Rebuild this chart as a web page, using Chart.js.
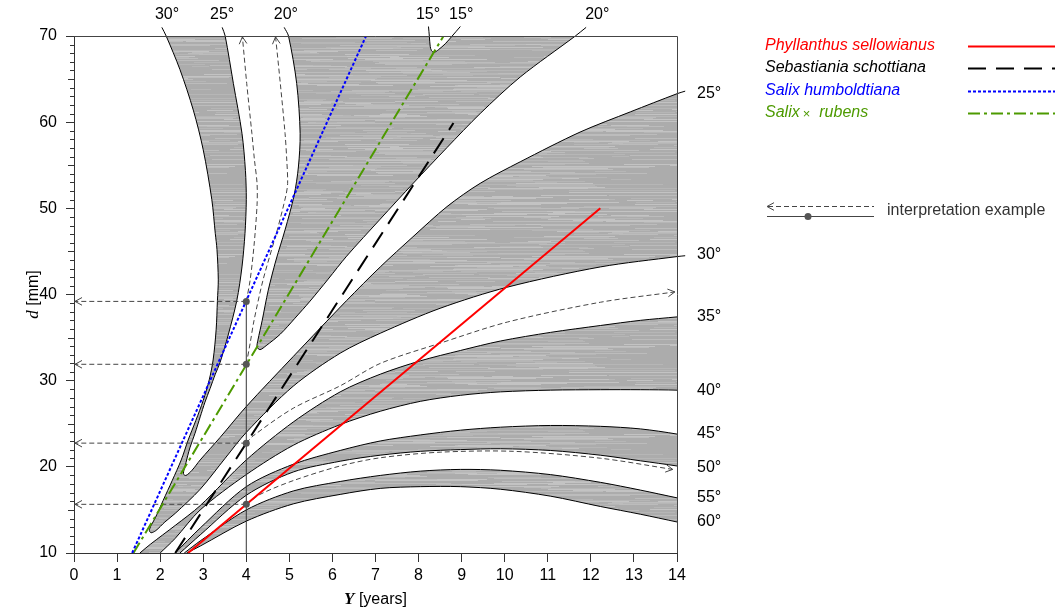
<!DOCTYPE html>
<html>
<head>
<meta charset="utf-8">
<script src="https://cdn.jsdelivr.net/npm/chart.js@4.4.1/dist/chart.umd.min.js"></script>
<style>
  html, body { margin: 0; padding: 0; background: #fff; }
</style>
</head>
<body>
<canvas id="chart" width="1055" height="609"></canvas>
<script>
// angle contours, [Y years, d mm]
const curve15 = [[8.23,71.1],[8.25,70],[8.27,68.8],[8.30,68.3],[8.36,68.1],[8.46,68.4],[8.62,69.1],[8.78,70],[8.97,71.1]];
const curve20 = [[4.88,71.0],[4.98,70],[5.17,64.5],[5.25,58.7],[5.21,54.8],[5.11,51.5],[4.90,47.5],[4.69,44.0],[4.51,40.5],[4.37,37.0],[4.27,34.7],[4.25,33.9],[4.32,33.6],[4.46,34.06],[4.79,35.4],[5.13,37.25],[5.48,39.23],[5.90,41.78],[6.33,44.45],[7.11,48.75],[7.88,52.93],[8.66,57.05],[9.43,61.0],[10.36,65.24],[11.64,70],[11.89,71.0]];
const curve25 = [[3.44,71.0],[3.51,70],[3.70,64.5],[3.90,58.7],[3.98,54.4],[4.0,51.0],[3.97,47.1],[3.90,43.2],[3.78,39.3],[3.58,35.3],[3.39,32.1],[3.28,30.75],[3.16,29.1],[3.04,27.5],[2.93,25.8],[2.81,23.9],[2.69,22.2],[2.60,20.5],[2.54,19.2],[2.60,19.0],[2.74,19.6],[2.93,20.8],[3.39,23.4],[4.0,27.0],[5.09,32.8],[6.33,39.3],[7.11,43.2],[7.87,46.7],[8.66,50.2],[9.43,52.9],[10.36,55.4],[11.75,58.85],[12.92,61.2],[14.0,63.3],[14.19,63.6]];
const curve30 = [[2.04,71.0],[2.14,70],[2.46,66.1],[2.77,61.4],[3.00,56.8],[3.20,51.0],[3.28,47.1],[3.32,45.2],[3.35,41.7],[3.33,39.3],[3.30,35.9],[3.23,32.4],[3.14,30.1],[3.00,27.7],[2.83,25.4],[2.65,23.1],[2.49,20.8],[2.28,18.4],[2.07,16.1],[1.88,14.0],[1.79,13.2],[1.75,12.6],[1.79,12.35],[1.90,12.6],[2.11,13.6],[2.35,14.6],[2.93,17.4],[3.51,21.0],[4.0,24.0],[5.09,29.36],[6.18,33.19],[7.11,35.5],[8.50,38.4],[10.06,40.85],[12.22,43.2],[14.0,44.4],[14.19,44.5]];
const curve35 = [[1.53,10],[1.77,11.0],[2.35,13.2],[2.93,15.5],[4.0,20.8],[5.09,25.2],[6.18,28.7],[7.11,30.75],[8.04,32.3],[8.97,33.5],[9.90,34.6],[11.06,35.6],[12.22,36.4],[13.15,37.0],[14.0,37.4],[14.19,37.5]];
const curve40 = [[2.0,10],[2.35,11.7],[2.93,15.0],[4.0,19.1],[5.09,22.5],[6.18,24.9],[7.11,26.45],[8.04,27.6],[8.97,28.3],[9.90,28.7],[11.06,28.9],[12.22,28.95],[13.15,28.95],[14.0,28.9],[14.19,28.8]];
const curve45 = [[2.35,10],[2.93,12.9],[4.0,17.7],[5.09,20.3],[6.18,21.9],[7.11,23.0],[8.04,23.7],[8.97,24.25],[9.90,24.6],[11.06,24.8],[12.22,24.7],[13.15,24.4],[14.0,23.8],[14.19,23.5]];
const curve50 = [[2.46,10],[2.93,12.1],[4.0,16.7],[5.09,19.4],[6.18,20.65],[7.11,21.35],[8.04,21.8],[8.97,22.0],[9.90,22.1],[11.06,21.9],[12.22,21.35],[13.15,20.7],[14.0,20.1],[14.19,19.9]];
const curve55 = [[2.56,10],[2.93,11.4],[4.0,15.0],[5.09,17.2],[6.18,18.3],[7.11,19.0],[8.04,19.5],[8.97,19.7],[9.90,19.6],[11.06,19.1],[12.22,18.2],[13.15,17.3],[14.0,16.4],[14.19,16.2]];
const curve60 = [[2.62,10],[2.93,10.8],[4.0,13.7],[5.09,15.7],[6.18,16.8],[7.11,17.5],[8.04,17.7],[8.97,17.7],[9.90,17.4],[11.06,16.6],[12.22,15.4],[13.15,14.5],[14.0,13.6],[14.19,13.4]];

// species regressions
const speciesNames = ['Phyllanthus sellowianus', 'Sebastiania schottiana', 'Salix humboldtiana', 'Salix × rubens'];
const redLine = [[2.65,10],[12.22,50]];
const blackLine = [[2.35,10],[8.81,59.9]];
const blueLine = [[1.35,10],[6.78,70]];
const greenLine = [[1.38,10],[8.58,70]];

// interpretation example
const exampleY = 4;
const exampleD = [39.2, 31.9, 22.75, 15.65];
const interpUp1 = [[4.0,39.2],[4.09,41.7],[4.18,45.7],[4.25,50.4],[4.25,52.9],[4.19,55.6],[4.13,58.7],[4.01,64.5],[3.91,69.9]];
const interpUp2 = [[4.0,31.9],[4.09,34.35],[4.18,37.0],[4.39,41.7],[4.72,47.5],[4.92,51.5],[4.96,52.9],[4.94,55.6],[4.90,58.7],[4.79,64.5],[4.68,69.9]];
const interpRight1 = [[4.0,22.75],[4.16,23.6],[5.09,26.8],[6.18,29.4],[7.11,32.0],[8.50,34.35],[10.06,36.8],[12.22,39.1],[13.95,40.3]];
const interpRight2 = [[4.0,15.65],[4.32,16.8],[5.09,18.4],[6.18,20.1],[7.11,21.05],[8.50,21.7],[10.2,21.8],[12.22,21.0],[13.9,19.7]];

// angle labels
const rightLabels = ['25°', '30°', '35°', '40°', '45°', '50°', '55°', '60°'];
const rightLabelD = [63.3, 44.6, 37.4, 28.9, 23.9, 19.95, 16.45, 13.7];
const topLabels = ['30°', '25°', '20°', '15°', '15°', '20°'];
const topLabelX = [2.16, 3.44, 4.92, 8.22, 8.99, 12.15];

const FONT = '"Liberation Sans", Arial, Helvetica, sans-serif';
const SERIF = '"Liberation Serif", "Times New Roman", serif';
const GREEN = '#4d9a00';
const DARK = '#444';

// streaky grey fill like the scanned original (fixed hash, no randomness)
function makeTexture() {
  const c = document.createElement('canvas');
  c.width = 420; c.height = 90;
  const g = c.getContext('2d');
  const hash = n => (Math.imul(n + 7, 2654435761) >>> 7) ^ (Math.imul(n + 3, 40503) >>> 3);
  g.fillStyle = '#acacac';
  g.fillRect(0, 0, c.width, c.height);
  const shades = ['#bcbcbc', '#c3c3c3', '#b6b6b6'];
  for (let r = 0; r < c.height; r++) {
    for (let k = 0; k < 3; k++) {
      const n = r * 3 + k;
      const start = hash(n) % c.width;
      const len = 15 + hash(n + 1000) % 110;
      g.fillStyle = shades[hash(n + 2000) % 3];
      g.fillRect(start, r, len, 1);
      if (start + len > c.width) g.fillRect(0, r, start + len - c.width, 1);
    }
  }
  return g.createPattern(c, 'repeat');
}
const GRAY = makeTexture();

const xy = pts => pts.map(p => ({ x: p[0], y: p[1] }));

function band(outer, inner) {
  return {
    data: xy(outer.concat(inner.slice().reverse())),
    showLine: true, fill: 'shape', backgroundColor: GRAY,
    borderColor: 'rgba(0,0,0,0)', borderWidth: 1,
    pointRadius: 0, tension: 0.3, order: 10
  };
}

function contour(c) {
  return {
    data: xy(c), showLine: true, fill: false,
    borderColor: '#000', borderWidth: 1,
    pointRadius: 0, tension: 0.3, clip: false, order: 8
  };
}

function dashed(pts, tension) {
  return {
    data: xy(pts), showLine: true, fill: false,
    borderColor: DARK, borderWidth: 1, borderDash: [5, 3],
    pointRadius: 0, tension: tension, order: 6
  };
}

function species(pts, color, dash) {
  return {
    data: xy(pts), showLine: true, fill: false,
    borderColor: color, borderWidth: 2, borderDash: dash,
    pointRadius: 0, order: 4
  };
}

const DASH_BLACK = [18, 10];
const DASH_BLUE = [3, 2];
const DASH_GREEN = [12, 4, 3, 4];

const datasets = [
  band(curve20, curve15),
  band(curve30, curve25),
  band(curve35, curve40),
  band(curve45, curve50),
  band(curve55, curve60),
  ...[curve15, curve20, curve25, curve30, curve35, curve40, curve45, curve50, curve55, curve60].map(contour),
  dashed(interpUp1, 0.3),
  dashed(interpUp2, 0.3),
  dashed(interpRight1, 0.3),
  dashed(interpRight2, 0.3),
  ...exampleD.map(d => dashed([[exampleY, d], [0, d]], 0)),
  {
    data: xy([[exampleY, 10], [exampleY, exampleD[0]]]), showLine: true,
    borderColor: '#333', borderWidth: 1, pointRadius: 0, order: 5
  },
  species(redLine, '#ff0000', []),
  species(blackLine, '#000', DASH_BLACK),
  species(blueLine, '#0000ff', DASH_BLUE),
  species(greenLine, GREEN, DASH_GREEN),
  {
    data: exampleD.map(d => ({ x: exampleY, y: d })), showLine: false,
    pointRadius: 3.5, backgroundColor: '#555', borderWidth: 0, order: 1
  }
];

function chevron(ctx, x0, y0, x1, y1) {
  const ang = Math.atan2(y1 - y0, x1 - x0);
  const L = 8, W = 0.5;
  ctx.beginPath();
  ctx.moveTo(x1 - L * Math.cos(ang - W), y1 - L * Math.sin(ang - W));
  ctx.lineTo(x1, y1);
  ctx.lineTo(x1 - L * Math.cos(ang + W), y1 - L * Math.sin(ang + W));
  ctx.stroke();
}

const decor = {
  id: 'decor',
  afterDraw(chart) {
    const { ctx, chartArea: a, scales: { x, y } } = chart;
    ctx.save();

    // frame top and right
    ctx.strokeStyle = '#444';
    ctx.lineWidth = 1;
    ctx.beginPath();
    ctx.moveTo(a.left, a.top + 0.5);
    ctx.lineTo(a.right + 0.5, a.top + 0.5);
    ctx.lineTo(a.right + 0.5, a.bottom);
    ctx.stroke();

    // minor ticks on d axis
    ctx.strokeStyle = '#333';
    for (let v = 11; v < 70; v++) {
      if (v % 10 === 0) continue;
      const py = Math.round(y.getPixelForValue(v)) + 0.5;
      const len = v % 5 === 0 ? 6 : 4;
      ctx.beginPath();
      ctx.moveTo(a.left - len, py);
      ctx.lineTo(a.left, py);
      ctx.stroke();
    }

    // arrow heads
    ctx.strokeStyle = DARK;
    const px = p => [x.getPixelForValue(p[0]), y.getPixelForValue(p[1])];
    [interpUp1, interpUp2, interpRight1, interpRight2].forEach(c => {
      const p0 = px(c[c.length - 2]), p1 = px(c[c.length - 1]);
      chevron(ctx, p0[0], p0[1], p1[0], p1[1]);
    });
    exampleD.forEach(d => {
      const p0 = px([exampleY, d]), p1 = px([0, d]);
      chevron(ctx, p0[0], p0[1], p1[0] + 1, p1[1]);
    });

    // angle labels
    ctx.fillStyle = '#000';
    ctx.font = '16px ' + FONT;
    ctx.textBaseline = 'middle';
    ctx.textAlign = 'left';
    rightLabels.forEach((t, i) => ctx.fillText(t, a.right + 20, y.getPixelForValue(rightLabelD[i])));
    ctx.textAlign = 'center';
    topLabels.forEach((t, i) => ctx.fillText(t, x.getPixelForValue(topLabelX[i]), a.top - 21));

    // x axis title
    ctx.textAlign = 'left';
    ctx.textBaseline = 'alphabetic';
    ctx.font = 'bold italic 17px ' + SERIF;
    const wY = ctx.measureText('Y').width;
    ctx.font = '16px ' + FONT;
    const wR = ctx.measureText(' [years]').width;
    let sx = (a.left + a.right) / 2 - (wY + wR) / 2;
    ctx.font = 'bold italic 17px ' + SERIF;
    ctx.fillText('Y', sx, 604);
    ctx.font = '16px ' + FONT;
    ctx.fillText(' [years]', sx + wY, 604);

    // y axis title
    ctx.save();
    ctx.translate(38, (a.top + a.bottom) / 2);
    ctx.rotate(-Math.PI / 2);
    ctx.font = 'italic 17px ' + SERIF;
    const wd = ctx.measureText('d').width;
    ctx.font = '16px ' + FONT;
    const wm = ctx.measureText(' [mm]').width;
    sx = -(wd + wm) / 2;
    ctx.font = 'italic 17px ' + SERIF;
    ctx.fillText('d', sx, 0);
    ctx.font = '16px ' + FONT;
    ctx.fillText(' [mm]', sx + wd, 0);
    ctx.restore();

    // legend
    const lx = 765, lx0 = 968, lx1 = 1055;
    const ly = [46, 68, 91, 113];
    const colors = ['#ff0000', '#000', '#0000ff', GREEN];
    const dashes = [[], DASH_BLACK, DASH_BLUE, DASH_GREEN];
    ctx.textBaseline = 'middle';
    speciesNames.forEach((name, i) => {
      ctx.fillStyle = colors[i];
      if (name.indexOf('×') > 0) {
        const parts = name.split('×');
        ctx.font = 'italic 16px ' + FONT;
        ctx.fillText(parts[0].trim(), lx, ly[i]);
        let cx = lx + ctx.measureText(parts[0].trim()).width + 3;
        ctx.font = '13px ' + FONT;
        ctx.fillText('×', cx, ly[i] + 1);
        cx += ctx.measureText('×').width + 9;
        ctx.font = 'italic 16px ' + FONT;
        ctx.fillText(parts[1].trim(), cx, ly[i]);
      } else {
        ctx.font = 'italic 16px ' + FONT;
        ctx.fillText(name, lx, ly[i]);
      }
      ctx.strokeStyle = colors[i];
      ctx.lineWidth = 2;
      ctx.setLineDash(dashes[i]);
      ctx.beginPath();
      ctx.moveTo(lx0, ly[i] + 0.5);
      ctx.lineTo(lx1, ly[i] + 0.5);
      ctx.stroke();
    });
    ctx.setLineDash([]);

    // interpretation example key
    ctx.strokeStyle = DARK;
    ctx.lineWidth = 1;
    ctx.setLineDash([5, 3]);
    ctx.beginPath();
    ctx.moveTo(768, 206.5);
    ctx.lineTo(874, 206.5);
    ctx.stroke();
    ctx.setLineDash([]);
    chevron(ctx, 780, 206.5, 767, 206.5);
    ctx.beginPath();
    ctx.moveTo(767, 216.5);
    ctx.lineTo(874, 216.5);
    ctx.stroke();
    ctx.fillStyle = '#555';
    ctx.beginPath();
    ctx.arc(808, 216.5, 3.5, 0, Math.PI * 2);
    ctx.fill();
    ctx.fillStyle = '#333';
    ctx.font = '16px ' + FONT;
    ctx.textAlign = 'left';
    ctx.fillText('interpretation example', 887, 211);

    ctx.restore();
  }
};

Chart.defaults.font.family = FONT;
Chart.defaults.color = '#000';

new Chart(document.getElementById('chart'), {
  type: 'scatter',
  data: { datasets },
  options: {
    responsive: false,
    animation: false,
    events: [],
    layout: { padding: { left: 0, right: 378, top: 36, bottom: 0 } },
    elements: { line: { capBezierPoints: false } },
    plugins: { legend: { display: false }, tooltip: { enabled: false } },
    scales: {
      x: {
        type: 'linear', min: 0, max: 14,
        ticks: { stepSize: 1, color: '#000', font: { size: 16 }, padding: 4, maxRotation: 0 },
        grid: { drawOnChartArea: false, tickLength: 9, color: '#333' },
        border: { color: '#333' },
        afterFit: s => { s.height = 56; }
      },
      y: {
        type: 'linear', min: 10, max: 70,
        ticks: { stepSize: 10, color: '#000', font: { size: 16 }, padding: 9 },
        grid: { drawOnChartArea: false, tickLength: 8, color: '#333' },
        border: { color: '#333' },
        afterFit: s => { s.width = 74; }
      }
    }
  },
  plugins: [decor]
});
</script>
</body>
</html>
